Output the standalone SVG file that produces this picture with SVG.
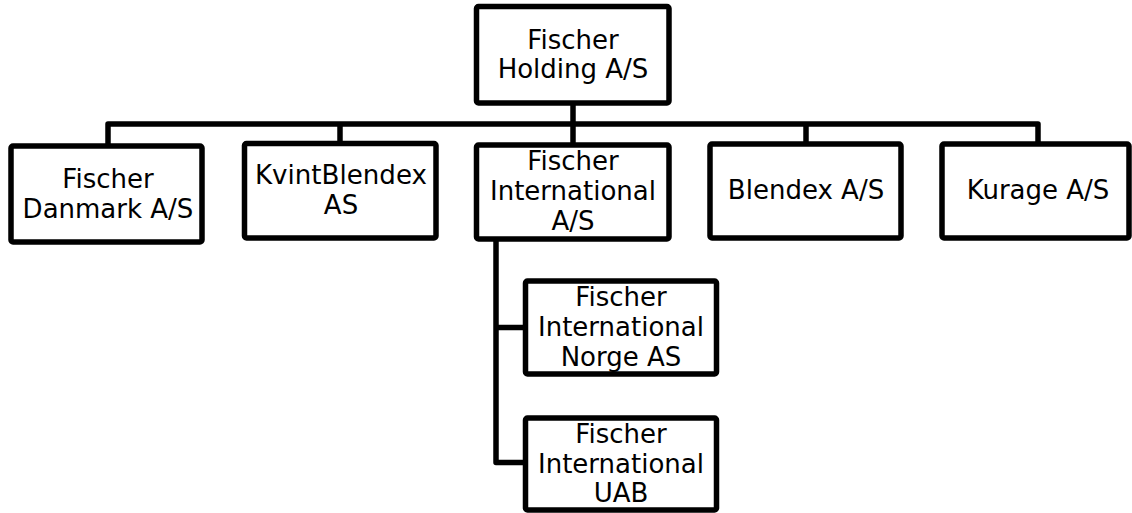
<svg xmlns="http://www.w3.org/2000/svg" width="1132" height="513" viewBox="0 0 1132 513">
<style>
.box{fill:#fff;stroke:#000;stroke-width:5.5}
.wire{fill:none;stroke:#000;stroke-width:5.5;stroke-linejoin:round}
text{font-family:"DejaVu Sans","Liberation Sans",sans-serif;font-size:26px;fill:#000;text-anchor:middle}
</style>
<rect width="1132" height="513" fill="#fff"/>
<g id="connectors">
<path class="wire" d="M108 146 V124 H1038 V144"/>
<path class="wire" d="M340 124 V143.5"/>
<path class="wire" d="M573 103 V145"/>
<path class="wire" d="M806 124 V144"/>
<path class="wire" d="M496 239 V462.5 H525.5"/>
<path class="wire" d="M496 327.5 H525.5"/>
</g>
<g id="holding">
<rect class="box" x="476.5" y="6.5" width="192.5" height="96.5" rx="2"/>
<text x="573" y="48.5">Fischer</text>
<text x="573" y="78">Holding A/S</text>
</g>
<g id="danmark">
<rect class="box" x="11" y="146" width="191" height="96" rx="2"/>
<text x="108" y="187.5">Fischer</text>
<text x="108" y="217.5">Danmark A/S</text>
</g>
<g id="kvintblendex">
<rect class="box" x="244.5" y="143.5" width="191.5" height="94.5" rx="2"/>
<text x="341" y="184" textLength="172" lengthAdjust="spacingAndGlyphs">KvintBlendex</text>
<text x="341" y="214">AS</text>
</g>
<g id="international">
<rect class="box" x="476.5" y="145" width="192.5" height="94" rx="2"/>
<text x="573" y="169.5">Fischer</text>
<text x="573" y="199.5">International</text>
<text x="573" y="229.5">A/S</text>
</g>
<g id="blendex">
<rect class="box" x="710" y="144" width="191" height="94" rx="2"/>
<text x="806" y="198.5">Blendex A/S</text>
</g>
<g id="kurage">
<rect class="box" x="942" y="144" width="187" height="94" rx="2"/>
<text x="1038" y="198.5">Kurage A/S</text>
</g>
<g id="norge">
<rect class="box" x="525.5" y="281" width="191" height="93" rx="2"/>
<text x="621" y="305.5">Fischer</text>
<text x="621" y="335.5">International</text>
<text x="621" y="365.5">Norge AS</text>
</g>
<g id="uab">
<rect class="box" x="525.5" y="418" width="191" height="92" rx="2"/>
<text x="621" y="442.5">Fischer</text>
<text x="621" y="472.5">International</text>
<text x="621" y="502">UAB</text>
</g>
</svg>
